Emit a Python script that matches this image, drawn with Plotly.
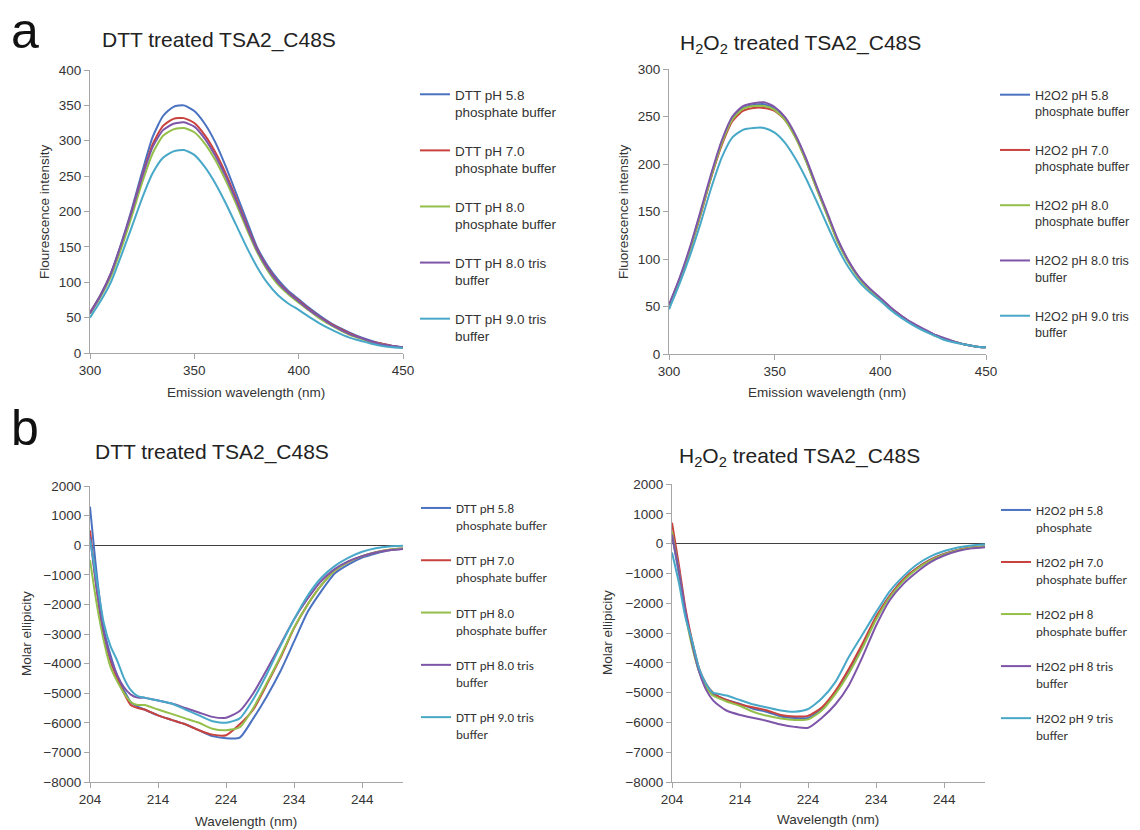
import plotly.graph_objects as go

# page body has an 8px default margin, so the figure is drawn 8px in from the top-left
OFF = 8
W, H = 1140 - OFF, 830 - OFF
COLORS = ["#4A72C0", "#C8423E", "#94BF4A", "#7E55A8", "#48A8C8"]

# ---------------- data ----------------
fl_wavelength = [300, 305, 310, 315, 320, 325, 330, 335, 340, 345, 350, 355, 360, 365, 370,
                 375, 380, 385, 390, 395, 400, 405, 410, 415, 420, 425, 430, 435, 440, 445, 450]

dtt_fl_ph58_phos = [57, 82, 113, 155, 203, 256, 305, 335, 348, 350, 342, 324, 298, 264, 226, 188, 150, 124, 104, 88, 76, 64, 53, 43, 35, 28, 22, 17, 13, 10, 8]
dtt_fl_ph70_phos = [57, 81, 112, 153, 200, 250, 295, 321, 331, 332, 325, 308, 284, 254, 219, 182, 147, 121, 101, 86, 74, 62, 51, 42, 34, 27, 21, 16, 13, 10, 8]
dtt_fl_ph80_phos = [55, 79, 108, 148, 193, 241, 282, 307, 316, 318, 312, 296, 273, 244, 211, 176, 143, 117, 97, 83, 71, 60, 49, 40, 32, 25, 20, 15, 12, 9, 7]
dtt_fl_ph80_tris = [56, 81, 112, 154, 200, 249, 291, 315, 324, 326, 320, 303, 279, 250, 216, 180, 146, 120, 100, 85, 73, 61, 51, 41, 33, 26, 21, 16, 12, 10, 8]
dtt_fl_ph90_tris = [50, 73, 100, 138, 178, 219, 254, 276, 285, 287, 280, 263, 240, 212, 181, 150, 122, 99, 82, 70, 61, 51, 42, 34, 27, 21, 17, 13, 10, 8, 7]

h2o2_fl_ph58_phos = [51, 79, 111, 149, 188, 223, 248, 259, 262, 263, 258, 247, 228, 203, 174, 146, 118, 97, 80, 68, 58, 48, 40, 32, 26, 21, 16, 13, 10, 8, 7]
h2o2_fl_ph70_phos = [50, 78, 110, 147, 186, 220, 245, 256, 259, 259, 256, 246, 228, 203, 174, 146, 118, 97, 80, 68, 58, 48, 40, 32, 26, 21, 16, 13, 10, 8, 7]
h2o2_fl_ph80_phos = [50, 78, 110, 148, 187, 222, 247, 258, 261, 261, 257, 246, 227, 202, 173, 145, 117, 96, 79, 67, 58, 48, 39, 32, 26, 20, 16, 13, 10, 8, 7]
h2o2_fl_ph80_tris = [52, 80, 113, 151, 190, 225, 250, 261, 264, 265, 260, 249, 230, 205, 176, 148, 120, 98, 81, 69, 59, 49, 40, 33, 27, 21, 17, 13, 10, 8, 7]
h2o2_fl_ph90_tris = [47, 74, 104, 138, 175, 207, 228, 236, 238, 238, 233, 222, 205, 184, 160, 135, 111, 91, 76, 65, 56, 46, 38, 31, 25, 20, 15, 12, 10, 8, 7]

cd_wavelength = [204, 205, 206, 207, 208, 209, 210, 211, 212, 214, 216, 218, 220, 222,
                 224, 226, 228, 230, 232, 234, 236, 238, 240, 242, 244, 246, 248, 250]

dtt_cd_ph58_phos = [1300, -1000, -2800, -3700, -4400, -4900, -5300, -5450, -5550, -5750, -5900, -6050, -6250, -6450, -6520, -6500, -5850, -5100, -4250, -3250, -2250, -1550, -950, -650, -420, -280, -170, -120]
dtt_cd_ph70_phos = [500, -1500, -3000, -3900, -4500, -5000, -5400, -5500, -5550, -5750, -5900, -6050, -6250, -6400, -6420, -6050, -5550, -4700, -3800, -2800, -2000, -1350, -850, -560, -370, -240, -150, -110]
dtt_cd_ph80_phos = [-500, -2000, -3200, -4100, -4600, -5000, -5300, -5400, -5400, -5550, -5700, -5850, -6000, -6200, -6250, -6150, -5500, -4650, -3750, -2780, -2000, -1350, -850, -560, -370, -240, -150, -110]
dtt_cd_ph80_tris = [300, -1500, -2900, -3800, -4400, -4800, -5050, -5150, -5150, -5250, -5350, -5500, -5650, -5800, -5830, -5600, -5000, -4200, -3350, -2500, -1800, -1200, -800, -540, -370, -250, -170, -130]
dtt_cd_ph90_tris = [200, -1200, -2600, -3400, -3900, -4500, -4900, -5100, -5150, -5250, -5350, -5550, -5750, -5950, -6000, -5850, -5200, -4350, -3400, -2500, -1700, -1100, -700, -420, -220, -100, -40, -20]

h2o2_cd_ph58_phos = [300, -1000, -2400, -3400, -4300, -4800, -5050, -5150, -5250, -5380, -5550, -5650, -5800, -5850, -5850, -5550, -5000, -4250, -3400, -2500, -1750, -1200, -820, -540, -350, -210, -130, -100]
h2o2_cd_ph70_phos = [700, -700, -2200, -3300, -4200, -4700, -5000, -5150, -5250, -5400, -5500, -5600, -5750, -5800, -5780, -5500, -4950, -4200, -3350, -2450, -1750, -1200, -820, -540, -350, -210, -130, -100]
h2o2_cd_ph8_phos = [400, -900, -2400, -3500, -4300, -4800, -5100, -5200, -5300, -5450, -5650, -5780, -5870, -5920, -5900, -5600, -5050, -4350, -3500, -2550, -1800, -1250, -850, -560, -360, -220, -140, -100]
h2o2_cd_ph8_tris = [300, -900, -2300, -3400, -4300, -4900, -5250, -5450, -5600, -5750, -5850, -5950, -6070, -6150, -6180, -5850, -5400, -4750, -3800, -2750, -1900, -1350, -950, -620, -400, -250, -160, -120]
h2o2_cd_ph9_tris = [-300, -1300, -2500, -3300, -4200, -4700, -5000, -5050, -5100, -5250, -5400, -5500, -5600, -5640, -5550, -5200, -4650, -3800, -3050, -2300, -1600, -1100, -700, -430, -250, -130, -60, -20]

dtt_labels = ["DTT pH 5.8<br>phosphate buffer", "DTT pH 7.0<br>phosphate buffer",
              "DTT pH 8.0<br>phosphate buffer", "DTT pH 8.0 tris<br>buffer",
              "DTT pH 9.0 tris<br>buffer"]
h2o2_fl_labels = ["H2O2 pH 5.8<br>phosphate buffer", "H2O2 pH 7.0<br>phosphate buffer",
                  "H2O2 pH 8.0<br>phosphate buffer", "H2O2 pH 8.0 tris<br>buffer",
                  "H2O2 pH 9.0 tris<br>buffer"]
h2o2_cd_labels = ["H2O2 pH 5.8<br>phosphate", "H2O2 pH 7.0<br>phosphate buffer",
                  "H2O2 pH 8<br>phosphate buffer", "H2O2 pH 8 tris<br>buffer",
                  "H2O2 pH 9 tris<br>buffer"]

panels = [
    ("x", "y", "legend", fl_wavelength,
     [dtt_fl_ph58_phos, dtt_fl_ph70_phos, dtt_fl_ph80_phos, dtt_fl_ph80_tris, dtt_fl_ph90_tris], dtt_labels),
    ("x2", "y2", "legend2", fl_wavelength,
     [h2o2_fl_ph58_phos, h2o2_fl_ph70_phos, h2o2_fl_ph80_phos, h2o2_fl_ph80_tris, h2o2_fl_ph90_tris], h2o2_fl_labels),
    ("x3", "y3", "legend3", cd_wavelength,
     [dtt_cd_ph58_phos, dtt_cd_ph70_phos, dtt_cd_ph80_phos, dtt_cd_ph80_tris, dtt_cd_ph90_tris], dtt_labels),
    ("x4", "y4", "legend4", cd_wavelength,
     [h2o2_cd_ph58_phos, h2o2_cd_ph70_phos, h2o2_cd_ph8_phos, h2o2_cd_ph8_tris, h2o2_cd_ph9_tris], h2o2_cd_labels),
]

fig = go.Figure()
for xa, ya, lg, xs, series, labels in panels:
    for i, (vals, lab) in enumerate(zip(series, labels)):
        fig.add_trace(go.Scatter(
            x=xs, y=vals, mode="lines", name=lab,
            line=dict(color=COLORS[i], width=2, shape="spline", smoothing=0.6),
            xaxis=xa, yaxis=ya, legend=lg, legendgroup=f"{lg}_{i}",
        ))

ARIAL = "Arial, 'Liberation Sans', sans-serif"
CALIBRI = "Carlito, Lato, sans-serif"
TXT = "#333333"
AXC = "#A6A6A6"


def px_x(p):
    return (p - OFF) / W


def px_y(p):
    return 1 - (p - OFF) / H


def xax(domain, rng, dtick, tick0):
    return dict(domain=domain, range=rng, dtick=dtick, tick0=tick0, tickmode="linear",
                automargin=False,
                showline=True, linecolor=AXC, linewidth=1, ticks="outside", ticklen=5,
                tickcolor=AXC, showgrid=False, zeroline=False,
                tickfont=dict(family=ARIAL, size=13.5, color=TXT))


def yax(domain, rng, dtick, anchor, zero=False):
    return dict(domain=domain, range=rng, dtick=dtick, tickmode="linear", anchor=anchor,
                automargin=False,
                showline=True, linecolor=AXC, linewidth=1, ticks="outside", ticklen=5,
                tickcolor=AXC, showgrid=False, zeroline=zero, zerolinecolor="#404040",
                zerolinewidth=1, tickfont=dict(family=ARIAL, size=13.5, color=TXT))


def leg(x, y, fam, size, gap):
    return dict(x=x, y=y, xanchor="left", yanchor="top", font=dict(family=fam, size=size, color=TXT),
                tracegroupgap=gap, valign="top", bgcolor="rgba(0,0,0,0)", itemwidth=30,
                traceorder="grouped")


fig.update_layout(
    template="none",
    width=W, height=H, margin=dict(l=0, r=0, t=0, b=0, autoexpand=False),
    paper_bgcolor="white", plot_bgcolor="white", showlegend=True,
    xaxis=xax([px_x(90), px_x(403)], [300, 450], 50, 300) | dict(anchor="y"),
    yaxis=yax([px_y(353), px_y(70)], [0, 400], 50, "x"),
    xaxis2=xax([px_x(669), px_x(986)], [300, 450], 50, 300) | dict(anchor="y2"),
    yaxis2=yax([px_y(354), px_y(69)], [0, 300], 50, "x2"),
    xaxis3=xax([px_x(90), px_x(403)], [204, 250], 10, 204) | dict(anchor="y3"),
    yaxis3=yax([px_y(782), px_y(486)], [-8000, 2000], 1000, "x3", zero=True),
    xaxis4=xax([px_x(672), px_x(985)], [204, 250], 10, 204) | dict(anchor="y4"),
    yaxis4=yax([px_y(782), px_y(484)], [-8000, 2000], 1000, "x4", zero=True),
    legend=leg(px_x(415), px_y(79), ARIAL, 13.5, 18),
    legend2=leg(px_x(995), px_y(80), ARIAL, 12.6, 19.5),
    legend3=leg(px_x(416), px_y(493), CALIBRI, 13, 15.5),
    legend4=leg(px_x(996), px_y(495), CALIBRI, 13, 15.25),
)

annotations = [
    dict(text="a", x=px_x(25), y=px_y(31), font=dict(family=ARIAL, size=50, color="#111")),
    dict(text="b", x=px_x(25), y=px_y(428), font=dict(family=ARIAL, size=50, color="#111")),
    dict(text="DTT treated TSA2_C48S", x=px_x(219), y=px_y(40), font=dict(family=ARIAL, size=21, color="#222")),
    dict(text="H<sub>2</sub>O<sub>2</sub> treated TSA2_C48S", x=px_x(800), y=px_y(44), font=dict(family=ARIAL, size=21, color="#222")),
    dict(text="DTT treated TSA2_C48S", x=px_x(212), y=px_y(452), font=dict(family=ARIAL, size=21, color="#222")),
    dict(text="H<sub>2</sub>O<sub>2</sub> treated TSA2_C48S", x=px_x(799), y=px_y(457), font=dict(family=ARIAL, size=21, color="#222")),
    dict(text="Emission wavelength (nm)", x=px_x(246), y=px_y(392), font=dict(family=ARIAL, size=13.5, color=TXT)),
    dict(text="Emission wavelength (nm)", x=px_x(827), y=px_y(392), font=dict(family=ARIAL, size=13.5, color=TXT)),
    dict(text="Wavelength (nm)", x=px_x(246), y=px_y(821), font=dict(family=ARIAL, size=13.5, color=TXT)),
    dict(text="Wavelength (nm)", x=px_x(828), y=px_y(819), font=dict(family=ARIAL, size=13.5, color=TXT)),
    dict(text="Flourescence intensity", x=px_x(44), y=px_y(212), textangle=-90, font=dict(family=ARIAL, size=13.5, color=TXT)),
    dict(text="Fluorescence intensity", x=px_x(623), y=px_y(212), textangle=-90, font=dict(family=ARIAL, size=13.5, color=TXT)),
    dict(text="Molar ellipicity", x=px_x(26), y=px_y(634), textangle=-90, font=dict(family=ARIAL, size=13.5, color=TXT)),
    dict(text="Molar ellipicity", x=px_x(607), y=px_y(633), textangle=-90, font=dict(family=ARIAL, size=13.5, color=TXT)),
]
for a in annotations:
    a.update(xref="paper", yref="paper", showarrow=False, xanchor="center", yanchor="middle")
fig.update_layout(annotations=annotations)

fig.write_html("out.html")
